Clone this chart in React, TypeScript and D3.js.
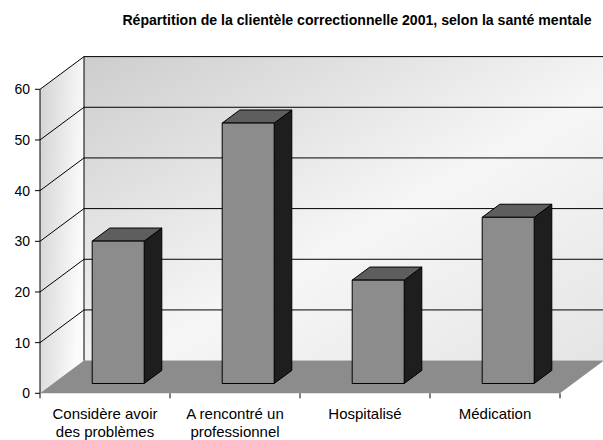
import React from 'react';
import * as d3 from 'd3';

const title = 'Répartition de la clientèle correctionnelle 2001, selon la santé mentale';
const categories = ['Considère avoir des problèmes', 'A rencontré un professionnel', 'Hospitalisé', 'Médication'];
const labelLines = [['Considère avoir', 'des problèmes'], ['A rencontré un', 'professionnel'], ['Hospitalisé'], ['Médication']];
const values = [28.1, 51.4, 20.4, 32.8];
const yTicks = [0, 10, 20, 30, 40, 50, 60];

const W = 603;
const H = 440;
// depth offset of the 3D box (back plane relative to front plane)
const DX = 44;
const DY = -32.7;
// bars sit between these depth fractions
const D0 = 0.3;
const D1 = 0.7;

export default function App() {
  const x = d3.scaleBand<string>().domain(categories).range([40, 560]).paddingInner(0.6).paddingOuter(0.3);
  const y = d3.scaleLinear().domain([0, 60]).range([393.3, 89.3]);
  const step = x.step();
  const x0 = 40;
  const x1 = 40 + step * categories.length;

  // project (front x, value, depth) to screen
  const P = (px: number, v: number, d: number): [number, number] => [px + DX * d, y(v) + DY * d];
  const poly = (pts: [number, number][]) => pts.map(p => p.join(',')).join(' ');

  const font = 'Arial, "Liberation Sans", sans-serif';

  return (
    <svg width={W} height={H} style={{ position: 'absolute', left: 0, top: 0, background: '#fff' }}>
      <defs>
        <linearGradient id="wall" x1="0" y1="0" x2="1" y2="1">
          <stop offset="0" stopColor="#cdcdcd" />
          <stop offset="0.55" stopColor="#f6f6f6" />
          <stop offset="1" stopColor="#e4e4e4" />
        </linearGradient>
        <linearGradient id="side" x1="0" y1="0" x2="1" y2="0.3">
          <stop offset="0" stopColor="#d2d2d2" />
          <stop offset="1" stopColor="#fbfbfb" />
        </linearGradient>
      </defs>

      <text x={357} y={25} textAnchor="middle" fontFamily={font} fontWeight="bold" fontSize={14.1} fill="#000">
        {title}
      </text>

      {/* back wall */}
      <polygon points={poly([P(x0, 0, 1), P(x0, 60, 1), P(x1 + 10, 60, 1), P(x1 + 10, 0, 1)])} fill="url(#wall)" />
      {/* left wall */}
      <polygon points={poly([P(x0, 0, 0), P(x0, 60, 0), P(x0, 60, 1), P(x0, 0, 1)])} fill="url(#side)" />
      {/* floor */}
      <polygon points={poly([P(x0, 0, 0), P(x1, 0, 0), P(x1, 0, 1), P(x0, 0, 1)])} fill="#8c8c8c" />

      {/* gridlines */}
      {yTicks.filter(t => t > 0).map(t => (
        <g key={t} stroke="#000" strokeWidth={1}>
          <line x1={P(x0, t, 0)[0]} y1={P(x0, t, 0)[1]} x2={P(x0, t, 1)[0]} y2={P(x0, t, 1)[1]} />
          <line x1={P(x0, t, 1)[0]} y1={P(x0, t, 1)[1]} x2={W} y2={P(x0, t, 1)[1]} />
        </g>
      ))}
      <line x1={P(x0, 0, 1)[0]} y1={P(x0, 0, 1)[1]} x2={P(x0, 60, 1)[0]} y2={P(x0, 60, 1)[1]} stroke="#000" />

      {/* bars */}
      {categories.map((c, i) => {
        const bx = x(c) as number;
        const bw = x.bandwidth();
        const v = values[i];
        const front = [P(bx, 0, D0), P(bx, v, D0), P(bx + bw, v, D0), P(bx + bw, 0, D0)] as [number, number][];
        const top = [P(bx, v, D0), P(bx, v, D1), P(bx + bw, v, D1), P(bx + bw, v, D0)] as [number, number][];
        const side = [P(bx + bw, 0, D0), P(bx + bw, v, D0), P(bx + bw, v, D1), P(bx + bw, 0, D1)] as [number, number][];
        return (
          <g key={c} stroke="#000" strokeWidth={1} strokeLinejoin="round">
            <polygon points={poly(side)} fill="#1e1e1e" />
            <polygon points={poly(top)} fill="#5e5e5e" />
            <polygon points={poly(front)} fill="#8c8c8c" />
          </g>
        );
      })}

      {/* value axis */}
      <line x1={x0} y1={y(0)} x2={x0} y2={y(60)} stroke="#000" />
      {yTicks.map(t => (
        <g key={t}>
          <line x1={x0 - 5} y1={y(t)} x2={x0} y2={y(t)} stroke="#000" />
          <text x={30} y={y(t)} dy="0.36em" textAnchor="end" fontFamily={font} fontSize={14} fill="#000">
            {t}
          </text>
        </g>
      ))}

      {/* category axis */}
      {d3.range(categories.length + 1).map(i => (
        <line key={i} x1={x0 + i * step} y1={y(0)} x2={x0 + i * step} y2={y(0) + 5} stroke="#000" />
      ))}
      {categories.map((c, i) => (
        <text key={c} x={(x(c) as number) + x.bandwidth() / 2} y={418.5} textAnchor="middle" fontFamily={font} fontSize={15} fill="#000">
          {labelLines[i].map((ln, j) => (
            <tspan key={j} x={(x(c) as number) + x.bandwidth() / 2} dy={j === 0 ? 0 : 18}>
              {ln}
            </tspan>
          ))}
        </text>
      ))}
    </svg>
  );
}
